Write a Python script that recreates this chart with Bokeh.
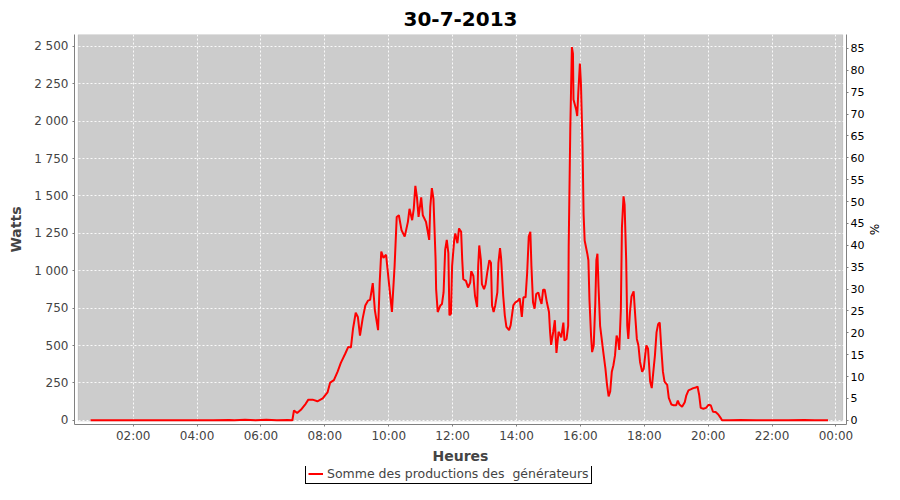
from bokeh.plotting import figure
from bokeh.layouts import column
from bokeh.models import (Range1d, LinearAxis, FixedTicker, BoxAnnotation,
                          Legend, LegendItem, ColumnDataSource)
from bokeh.embed import file_html
from bokeh.resources import INLINE

# ---------------- data ----------------
title_text = "30-7-2013"
x_label = "Heures"
y_label = "Watts"
y2_label = "%"
series_name = "Somme des productions des  générateurs"

times = [
    "00:40", "01:00", "01:30", "02:00", "02:30", "03:00", "03:30", "04:00", "04:30",
    "05:00", "05:10", "05:30", "05:50", "06:10", "06:30", "06:50", "06:59",
    "07:02", "07:08", "07:15", "07:24", "07:29", "07:37", "07:46", "07:56",
    "08:05", "08:10", "08:17", "08:24", "08:30", "08:38", "08:44", "08:49", "08:53", "08:58",
    "09:02", "09:06", "09:11", "09:16", "09:21", "09:25", "09:30", "09:34", "09:40", "09:43",
    "09:46", "09:50", "09:55", "10:00", "10:06", "10:11", "10:15", "10:19", "10:24", "10:30",
    "10:36", "10:39", "10:44", "10:47", "10:50", "10:53", "10:56", "11:01", "11:04", "11:10",
    "11:16", "11:18", "11:21", "11:24", "11:28", "11:29", "11:32", "11:37", "11:40", "11:43",
    "11:46", "11:49", "11:52", "11:54", "11:57", "11:59", "12:03", "12:05", "12:09", "12:12",
    "12:16", "12:18", "12:20", "12:25", "12:29", "12:33", "12:35", "12:39", "12:42", "12:46",
    "12:48", "12:50", "12:53", "12:55", "12:59", "13:02", "13:05", "13:09", "13:12", "13:14",
    "13:17", "13:20", "13:24", "13:26", "13:29", "13:31", "13:35", "13:38", "13:41", "13:46",
    "13:49", "13:54", "13:58", "14:03", "14:06", "14:10", "14:13", "14:17", "14:20", "14:23",
    "14:26", "14:28", "14:31", "14:34", "14:37", "14:41", "14:44", "14:47", "14:50", "14:53",
    "14:57", "15:01", "15:03", "15:05", "15:09", "15:12", "15:15", "15:19", "15:24", "15:28",
    "15:30", "15:34", "15:37", "15:38", "15:41", "15:44", "15:46", "15:47", "15:52", "15:54",
    "15:56", "15:59", "16:01", "16:04", "16:06", "16:08", "16:13", "16:15", "16:17", "16:20",
    "16:22", "16:25", "16:28", "16:30", "16:32", "16:34", "16:37", "16:40", "16:43", "16:47",
    "16:50", "16:53", "16:56", "16:59", "17:02", "17:05", "17:08", "17:11", "17:13", "17:16",
    "17:18", "17:21", "17:23", "17:26", "17:28", "17:30", "17:33", "17:36", "17:40", "17:43",
    "17:46", "17:49", "17:52", "17:56", "17:59", "18:03", "18:04", "18:07", "18:11", "18:14",
    "18:17", "18:20", "18:23", "18:26", "18:29", "18:32", "18:35", "18:38", "18:43", "18:46",
    "18:51", "18:55", "19:00", "19:03", "19:06", "19:11", "19:16", "19:19", "19:23", "19:28",
    "19:32", "19:37", "19:40", "19:43", "19:46", "19:51", "19:56", "20:01", "20:05", "20:09",
    "20:14", "20:19", "20:23", "20:26", "20:40", "21:00", "21:30", "22:00", "22:30", "23:00",
    "23:20", "23:45",
]
watts = [
    0, 0, 0, 0, 0, 0, 0, 0, 0,
    2, 0, 3, 0, 3, 0, 2, 0,
    66, 48, 70, 110, 138, 138, 127, 147,
    186, 252, 268, 325, 384, 443, 491, 487, 614, 719,
    691, 566, 680, 768, 800, 805, 917, 735, 603, 921,
    1129, 1086, 1107, 932, 724, 1031, 1360, 1371, 1272, 1228,
    1327, 1414, 1338, 1414, 1568, 1491, 1360, 1491, 1371, 1327,
    1206, 1425, 1553, 1480, 1075, 877, 724, 768, 778, 855,
    1140, 1206, 1118, 702, 713, 1031, 1206, 1250, 1184, 1283,
    1261, 1075, 943, 932, 888, 921, 998, 965, 833, 757,
    1031, 1169, 1075, 910, 877, 910, 987, 1070, 1053, 768,
    724, 768, 855, 1053, 1151, 1086, 833, 702, 625, 603,
    636, 768, 789, 800, 816, 691, 822, 822, 987, 1228,
    1261, 1031, 789, 746, 844, 855, 811, 778, 873, 873,
    789, 724, 592, 504, 592, 669, 450, 592, 555, 653,
    533, 544, 632, 1158, 1947, 2496, 2452, 2145, 2079, 2035,
    2189, 2386, 2254, 1838, 1377, 1202, 1114, 1070, 807, 566,
    456, 500, 785, 1070, 1114, 895, 632, 544, 456, 346,
    237, 160, 193, 325, 368, 434, 566, 533, 470, 741,
    1289, 1498, 1443, 1070, 632, 544, 719, 829, 862, 697,
    544, 500, 390, 325, 346, 478, 500, 478, 259, 215,
    325, 434, 588, 643, 654, 478, 325, 259, 237, 149,
    105, 101, 101, 132, 105, 90, 121, 167, 200, 208,
    215, 219, 226, 171, 83, 77, 83, 105, 99, 57,
    55, 39, 18, 0, 0, 2, 0, 0, 0, 2,
    0, 0,
]

x_ticks = [2, 4, 6, 8, 10, 12, 14, 16, 18, 20, 22, 24]
x_tick_labels = ["02:00", "04:00", "06:00", "08:00", "10:00", "12:00",
                 "14:00", "16:00", "18:00", "20:00", "22:00", "00:00"]
y_ticks = [0, 250, 500, 750, 1000, 1250, 1500, 1750, 2000, 2250, 2500]
y_tick_labels = ["0", "250", "500", "750", "1 000", "1 250", "1 500",
                 "1 750", "2 000", "2 250", "2 500"]
y2_ticks = list(range(0, 90, 5))

# ---------------- build ----------------
hours = [int(t[:2]) + int(t[3:]) / 60.0 for t in times]
src = ColumnDataSource(dict(h=hours, w=watts))

FONT = "DejaVu Sans"
X0, X1 = 0.163, 24.33          # frame range (axes are detached from plot area)
Y0, Y1 = -28.3, 2580.0
Y2_0, Y2_1 = -0.966, 88.2

p = figure(width=884, height=466, output_backend="svg", toolbar_location=None,
           x_range=Range1d(X0, X1), y_range=Range1d(Y0, Y1),
           min_border_left=74, min_border_right=30, min_border_top=34,
           min_border_bottom=36)
p.background_fill_color = "white"
p.border_fill_color = "white"
p.outline_line_color = None

# gray plot area, inset from the axes
area = BoxAnnotation(left=0.281, right=24.21, bottom=-3.9, top=Y1,
                     fill_color="#cccccc", fill_alpha=1.0,
                     line_color="#7a7a7a", line_width=1, level="image")
p.add_layout(area)

p.title.text = title_text
p.title.align = "center"
p.title.vertical_align = "top"
p.title.text_font = FONT
p.title.text_font_size = "20px"
p.title.text_font_style = "bold"
p.title.text_color = "black"
p.title.standoff = 13

for g in (p.xgrid[0], p.ygrid[0]):
    g.grid_line_color = "white"
    g.grid_line_dash = "2 2"
    g.grid_line_width = 1
    g.grid_line_alpha = 0.9
p.xgrid[0].ticker = FixedTicker(ticks=x_ticks)
p.ygrid[0].ticker = FixedTicker(ticks=y_ticks)

ax = p.xaxis[0]
ax.ticker = FixedTicker(ticks=x_ticks)
ax.major_label_overrides = {t: l for t, l in zip(x_ticks, x_tick_labels)}
ay = p.yaxis[0]
ay.ticker = FixedTicker(ticks=y_ticks)
ay.major_label_overrides = {t: l for t, l in zip(y_ticks, y_tick_labels)}

ax.axis_label = x_label
ay.axis_label = y_label
for a in (ax, ay):
    a.axis_line_color = "#808080"
    a.major_tick_line_color = "#808080"
    a.minor_tick_line_color = None
    a.major_tick_out = 2
    a.major_tick_in = 0
    a.major_label_text_font = FONT
    a.major_label_text_font_size = "12px"
    a.major_label_text_color = "#444444"
    a.major_label_standoff = 2
    a.axis_label_text_font = FONT
    a.axis_label_text_font_size = "14px"
    a.axis_label_text_font_style = "bold"
    a.axis_label_text_color = "#444444"
    a.axis_label_standoff = 2
ay.major_label_standoff = 4
ay.axis_label_standoff = 7

p.extra_y_ranges = {"pct": Range1d(Y2_0, Y2_1)}
ay2 = LinearAxis(y_range_name="pct", ticker=FixedTicker(ticks=y2_ticks),
                 axis_label=y2_label)
ay2.axis_line_color = "#808080"
ay2.major_tick_line_color = "#808080"
ay2.minor_tick_line_color = None
ay2.major_tick_out = 2
ay2.major_tick_in = 0
ay2.major_label_text_font = FONT
ay2.major_label_text_font_size = "11px"
ay2.major_label_text_color = "black"
ay2.major_label_standoff = 2
ay2.axis_label_text_font = FONT
ay2.axis_label_text_font_size = "12px"
ay2.axis_label_text_font_style = "normal"
ay2.axis_label_text_color = "black"
ay2.axis_label_standoff = 0
p.add_layout(ay2, "right")

p.line("h", "w", source=src, line_color="#ff0000", line_width=2)

# ---- legend strip below the chart ----
pl = figure(width=884, height=18, output_backend="svg", toolbar_location=None,
            x_range=Range1d(0, 1), y_range=Range1d(-2, -1),
            min_border=0, min_border_left=0, min_border_right=0,
            min_border_top=0, min_border_bottom=0)
pl.axis.visible = False
pl.grid.visible = False
pl.outline_line_color = None
pl.background_fill_color = "white"
pl.border_fill_color = "white"
# same series, drawn out of this strip's view: only its legend key shows
key = pl.line("h", "w", source=src, line_color="#ff0000", line_width=2)
legend = Legend(items=[LegendItem(label=series_name, renderers=[key])],
                location=(231, 0), orientation="horizontal",
                margin=0, padding=2, spacing=0,
                glyph_width=15, glyph_height=13, label_height=13,
                label_standoff=4,
                label_text_font=FONT, label_text_font_size="12.5px",
                label_text_color="#444444",
                border_line_color="black", border_line_width=1, border_line_alpha=1,
                background_fill_color="white", background_fill_alpha=1)
pl.add_layout(legend, "center")

page = column(p, pl, spacing=0)
open("out.html", "w").write(file_html(page, INLINE))
